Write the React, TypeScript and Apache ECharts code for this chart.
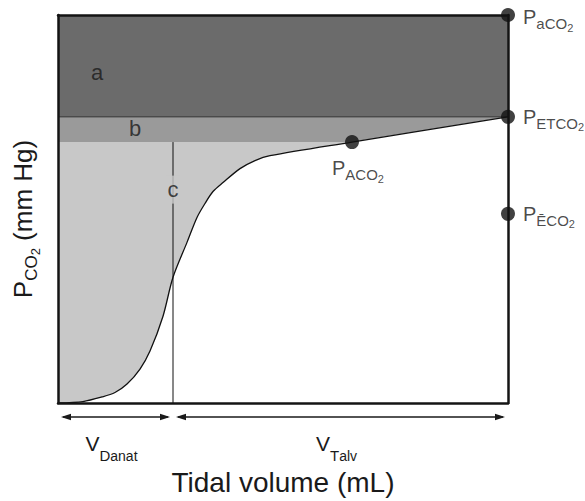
import React, { useEffect, useRef } from "react";
import * as echarts from "echarts";

// Breath volumes (mL)
const tidalVolume = 450;
const anatomicDeadSpace = 115;
const alveolarPointVolume = 294;

// CO2 tensions (mm Hg)
const arterialPCO2 = 40;
const endTidalPCO2 = 29.5;
const alveolarPCO2 = 26.9;
const mixedExpiredPCO2 = 19.5;

// Expired CO2 curve: exhaled volume vs PCO2
const curveVolume = [0, 25, 44, 57, 69, 82, 92, 105, 115, 129, 139, 147, 155, 165, 182, 197, 212, 294, 450];
const curvePCO2 = [0, 0.15, 0.62, 1.08, 1.95, 3.5, 5.35, 8.95, 12.96, 16.56, 19.13, 20.57, 21.8, 22.72, 24.16, 24.99, 25.5, 26.9, 29.5];

// Marked tensions
const markerSubscripts = ["aCO", "ETCO", "\u0112CO", "ACO"];
const markerVolume = [tidalVolume, tidalVolume, tidalVolume, alveolarPointVolume];
const markerPCO2 = [arterialPCO2, endTidalPCO2, mixedExpiredPCO2, alveolarPCO2];

// Volume spans under the axis
const spanStart = [0, anatomicDeadSpace];
const spanEnd = [anatomicDeadSpace, tidalVolume];
const spanSymbol = ["D", "T"];
const spanSubscript = ["anat", "alv"];

// Area names
const areaNames = ["a", "b", "c"];

const font = "'Liberation Sans', Arial, Helvetica, sans-serif";
const ink = "#1a1a1a";

export default function App() {
  const ref = useRef<HTMLDivElement>(null);

  useEffect(() => {
    if (!ref.current) return;
    const chart = echarts.init(ref.current, null, { renderer: "svg" });

    const frameLine = { show: true, onZero: false, lineStyle: { color: "#141414", width: 2.5 } };
    const hidden = {
      axisTick: { show: false },
      axisLabel: { show: false },
      splitLine: { show: false },
    };

    const pRich = {
      p: { fontSize: 20, lineHeight: 26, verticalAlign: "top", fontFamily: font, color: ink },
      s: { fontSize: 15, verticalAlign: "bottom", padding: [0, 0, 2, 0], fontFamily: font, color: ink },
      t: { fontSize: 11, verticalAlign: "bottom", fontFamily: font, color: ink },
    };

    const curve = curveVolume.map((v, i) => [v, curvePCO2[i]]);

    // anchors of the area names, in axis units
    const areaAnchors = [
      [39, 34.1],
      [77, 28.3],
      [anatomicDeadSpace, 22.0],
    ];

    const markerLabel = [
      { position: "right", distance: 8, offset: [0, 5] },
      { position: "right", distance: 8, offset: [0, 3] },
      { position: "right", distance: 8, offset: [0, 3] },
      { position: "bottom", distance: 9, offset: [6, 0] },
    ];

    const spanRich = {
      v: { fontSize: 21, lineHeight: 30, verticalAlign: "top", fontFamily: font, fill: ink },
      s: { fontSize: 15, verticalAlign: "bottom", fontFamily: font, fill: ink },
      ss: { fontSize: 14, verticalAlign: "bottom", fontFamily: font, fill: ink },
    };

    chart.setOption({
      animation: false,
      textStyle: { fontFamily: font },
      grid: { left: 58, top: 15, right: 77, bottom: 97 },
      xAxis: [
        {
          type: "value",
          min: 0,
          max: tidalVolume,
          position: "bottom",
          axisLine: frameLine,
          ...hidden,
          z: 10,
          name: "Tidal volume (mL)",
          nameLocation: "middle",
          nameGap: 65,
          nameTextStyle: { fontSize: 28, color: ink, fontFamily: font },
        },
        { type: "value", min: 0, max: tidalVolume, position: "top", axisLine: frameLine, ...hidden, z: 10 },
      ],
      yAxis: [
        {
          type: "value",
          min: 0,
          max: arterialPCO2,
          position: "left",
          axisLine: frameLine,
          ...hidden,
          z: 10,
          name: "{p|P}{s|CO}{t|2}{r| (mm Hg)}",
          nameLocation: "middle",
          nameRotate: 90,
          nameGap: 16,
          nameTextStyle: {
            padding: [0, 20, 0, 0],
            rich: {
              p: { fontSize: 26, lineHeight: 32, verticalAlign: "top", fontFamily: font, color: ink },
              s: { fontSize: 17, verticalAlign: "bottom", padding: [0, 0, 2, 0], fontFamily: font, color: ink },
              t: { fontSize: 13, verticalAlign: "bottom", fontFamily: font, color: ink },
              r: { fontSize: 26, lineHeight: 32, verticalAlign: "top", fontFamily: font, color: ink },
            },
          },
        },
        { type: "value", min: 0, max: arterialPCO2, position: "right", axisLine: frameLine, ...hidden, z: 10 },
      ],
      series: [
        // a: above end-tidal tension
        {
          type: "line",
          data: [[0, arterialPCO2], [tidalVolume, arterialPCO2]],
          symbol: "none",
          lineStyle: { width: 0, opacity: 0 },
          areaStyle: { color: "#6b6b6b", opacity: 1 },
          silent: true,
          z: 2,
        },
        // b: between end-tidal and alveolar tension
        {
          type: "line",
          data: [[0, endTidalPCO2], [tidalVolume, endTidalPCO2]],
          symbol: "none",
          lineStyle: { color: "#333333", width: 1 },
          areaStyle: { color: "#9a9a9a", opacity: 1 },
          silent: true,
          z: 2,
        },
        // c: below alveolar tension
        {
          type: "line",
          data: [[0, alveolarPCO2], [alveolarPointVolume, alveolarPCO2]],
          symbol: "none",
          lineStyle: { width: 0, opacity: 0 },
          areaStyle: { color: "#c8c8c8", opacity: 1 },
          silent: true,
          z: 2,
        },
        // expired CO2 curve
        {
          type: "line",
          data: curve,
          smooth: 0.3,
          symbol: "none",
          lineStyle: { color: "#111111", width: 1.3 },
          areaStyle: { color: "#ffffff", opacity: 1 },
          silent: true,
          z: 2,
        },
        // anatomic dead space boundary
        {
          type: "line",
          data: [[anatomicDeadSpace, 0], [anatomicDeadSpace, alveolarPCO2]],
          symbol: "none",
          lineStyle: { color: "#111111", width: 1 },
          silent: true,
          z: 3,
        },
        // area names
        {
          type: "scatter",
          symbolSize: 0,
          silent: true,
          z: 4,
          data: areaNames.map((n, i) => ({
            value: areaAnchors[i],
            label: {
              show: true,
              position: "inside",
              formatter: n,
              fontSize: 22,
              color: ink,
              fontFamily: font,
              ...(n === "c" ? { backgroundColor: "#c8c8c8", padding: [3, 1] } : {}),
            },
          })),
        },
        // marked tensions
        {
          type: "scatter",
          symbolSize: 14,
          itemStyle: { color: "#111111" },
          silent: true,
          z: 12,
          data: markerSubscripts.map((s, i) => ({
            value: [markerVolume[i], markerPCO2[i]],
            label: {
              show: true,
              ...markerLabel[i],
              formatter: `{p|P}{s|${s}}{t|2}`,
              rich: pRich,
            },
          })),
        },
        // volume spans with arrows
        {
          type: "custom",
          silent: true,
          clip: false,
          z: 5,
          data: spanStart.map((s, i) => [s, spanEnd[i]]),
          renderItem: (params: any, api: any) => {
            const i = params.dataIndex;
            const a = api.coord([api.value(0), 0]);
            const b = api.coord([api.value(1), 0]);
            const y = a[1] + 14;
            const left = a[0] + 3;
            const right = b[0] - 3;
            const head = 10;
            const half = 3.3;
            return {
              type: "group",
              children: [
                { type: "line", shape: { x1: left + 2, y1: y, x2: right - 2, y2: y }, style: { stroke: ink, lineWidth: 1.5 } },
                { type: "polygon", shape: { points: [[left, y], [left + head, y - half], [left + head, y + half]] }, style: { fill: ink } },
                { type: "polygon", shape: { points: [[right, y], [right - head, y - half], [right - head, y + half]] }, style: { fill: ink } },
                {
                  type: "text",
                  style: {
                    text: `{v|V}{s|${spanSymbol[i]}}{ss|${spanSubscript[i]}}`,
                    x: (a[0] + b[0]) / 2 - 4,
                    y: a[1] + 30,
                    align: "center",
                    verticalAlign: "top",
                    fill: ink,
                    fontFamily: font,
                    fontSize: 21,
                    rich: spanRich,
                  },
                },
              ],
            };
          },
        },
      ],
    });

    return () => chart.dispose();
  }, []);

  return <div ref={ref} style={{ position: "absolute", left: 0, top: 0, width: 585, height: 501 }} />;
}
